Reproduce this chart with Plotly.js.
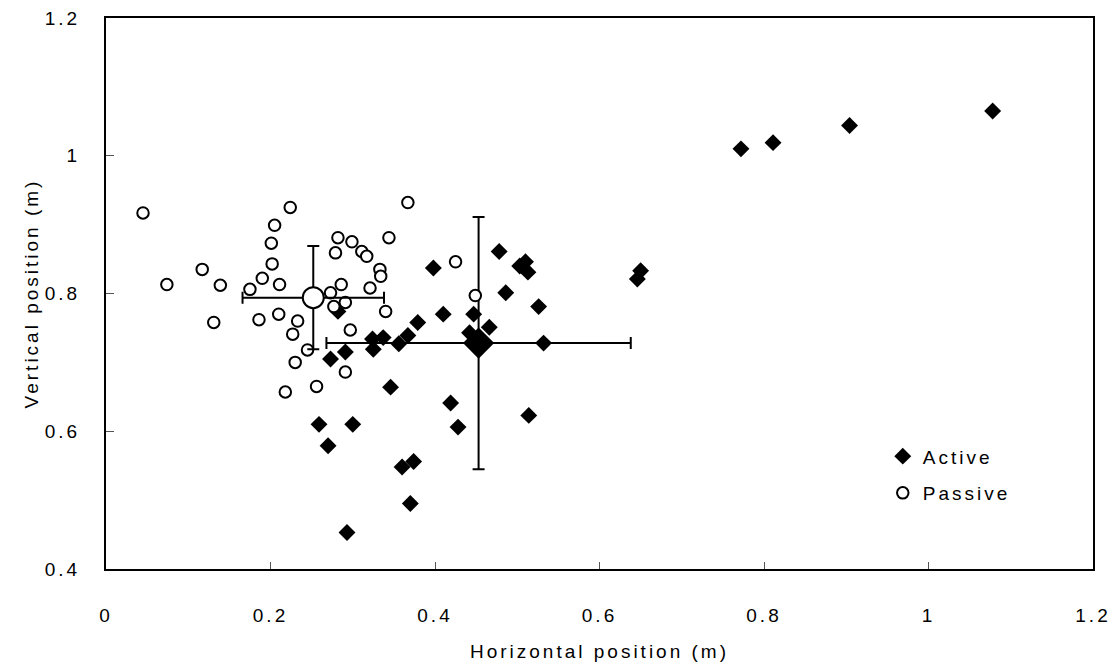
<!DOCTYPE html>
<html>
<head>
<meta charset="utf-8">
<script src="https://cdn.plot.ly/plotly-3.0.1.min.js"></script>
<style>
  html, body { margin: 0; padding: 0; background: #fff; }
  svg text { letter-spacing: 3px; }
</style>
</head>
<body>
<div id="chart" style="width:1118px;height:669px;"></div>
<script>
// Active (diamonds)
const activeX = [0.282,0.273,0.291,0.324,0.337,0.325,0.356,0.367,0.379,0.398,0.410,0.447,0.442,0.466,0.478,0.486,0.503,0.510,0.513,0.526,0.532,0.346,0.419,0.428,0.514,0.259,0.300,0.270,0.360,0.374,0.370,0.293,0.650,0.646,0.772,0.811,0.904,1.078];
const activeY = [0.774,0.705,0.715,0.734,0.736,0.719,0.727,0.739,0.758,0.837,0.770,0.770,0.743,0.751,0.861,0.801,0.840,0.846,0.831,0.781,0.728,0.664,0.641,0.606,0.623,0.610,0.610,0.579,0.548,0.556,0.495,0.453,0.833,0.821,1.010,1.019,1.044,1.065];
// Passive (open circles)
const passiveX = [0.045,0.074,0.117,0.139,0.131,0.175,0.190,0.202,0.201,0.205,0.224,0.211,0.186,0.210,0.233,0.227,0.245,0.230,0.218,0.256,0.291,0.297,0.273,0.286,0.291,0.277,0.282,0.299,0.279,0.311,0.317,0.344,0.367,0.333,0.334,0.321,0.340,0.425,0.449];
const passiveY = [0.917,0.813,0.835,0.812,0.758,0.806,0.822,0.843,0.873,0.899,0.925,0.813,0.762,0.770,0.760,0.741,0.718,0.700,0.657,0.665,0.686,0.747,0.801,0.813,0.787,0.781,0.881,0.875,0.859,0.861,0.854,0.881,0.932,0.835,0.825,0.808,0.774,0.846,0.797];
// Group means with standard deviations
const activeMean = {x: 0.453, y: 0.728, sdX: 0.185, sdY: 0.183};
const passiveMean = {x: 0.252, y: 0.794, sdX: 0.086, sdY: 0.075};
const xTicks = [0, 0.2, 0.4, 0.6, 0.8, 1, 1.2];
const yTicks = [0.4, 0.6, 0.8, 1, 1.2];

const FONT = 'Liberation Sans, Arial, sans-serif';
const errStyle = {type: 'data', symmetric: true, color: '#000', thickness: 2, width: 6};

const traces = [
  {x: activeX, y: activeY, type: 'scatter', mode: 'markers', name: 'Active',
   legendgroup: 'a',
   marker: {symbol: 'diamond', size: 13, color: '#000', line: {width: 0}}},
  {x: [activeMean.x], y: [activeMean.y], type: 'scatter', mode: 'markers', showlegend: false,
   marker: {symbol: 'diamond', size: 24, color: '#000', line: {width: 0}},
   error_x: Object.assign({array: [activeMean.sdX]}, errStyle),
   error_y: Object.assign({array: [activeMean.sdY]}, errStyle)},
  {x: passiveX, y: passiveY, type: 'scatter', mode: 'markers', name: 'Passive',
   legendgroup: 'p',
   marker: {symbol: 'circle', size: 11.5, color: '#fff', line: {width: 2, color: '#000'}}},
  {x: [passiveMean.x], y: [passiveMean.y], type: 'scatter', mode: 'markers', showlegend: false,
   marker: {symbol: 'circle', size: 21, color: '#fff', line: {width: 2, color: '#000'}},
   error_x: Object.assign({array: [passiveMean.sdX]}, errStyle),
   error_y: Object.assign({array: [passiveMean.sdY]}, errStyle)}
];

const layout = {
  width: 1118, height: 669,
  margin: {l: 106, r: 25, t: 18, b: 100, pad: 0},
  paper_bgcolor: '#fff', plot_bgcolor: '#fff',
  font: {family: FONT, size: 19, color: '#000'},
  showlegend: true,
  legend: {x: 0.787, y: 0.239, xanchor: 'left', yanchor: 'top', bgcolor: 'rgba(0,0,0,0)',
           font: {family: FONT, size: 19, color: '#000'}, tracegroupgap: 9, traceorder: 'grouped',
           itemwidth: 30},
  xaxis: {range: [0, 1.2], tickvals: xTicks, ticktext: xTicks.map(String),
          showgrid: false, zeroline: false, showline: true, linecolor: '#000', linewidth: 2, mirror: true,
          ticks: 'inside', ticklen: 7, tickwidth: 1, tickcolor: '#555', ticklabelstandoff: 28,
          title: {text: 'Horizontal position (m)', font: {family: FONT, size: 19}, standoff: 20}},
  yaxis: {range: [0.4, 1.2], tickvals: yTicks, ticktext: yTicks.map(String),
          showgrid: false, zeroline: false, showline: true, linecolor: '#000', linewidth: 2, mirror: true,
          ticks: 'inside', ticklen: 8, tickwidth: 1, tickcolor: '#555', ticklabelstandoff: 20,
          title: {text: 'Vertical position (m)', font: {family: FONT, size: 19}, standoff: 1}}
};

Plotly.newPlot('chart', traces, layout, {displayModeBar: false, staticPlot: true});
</script>
</body>
</html>
